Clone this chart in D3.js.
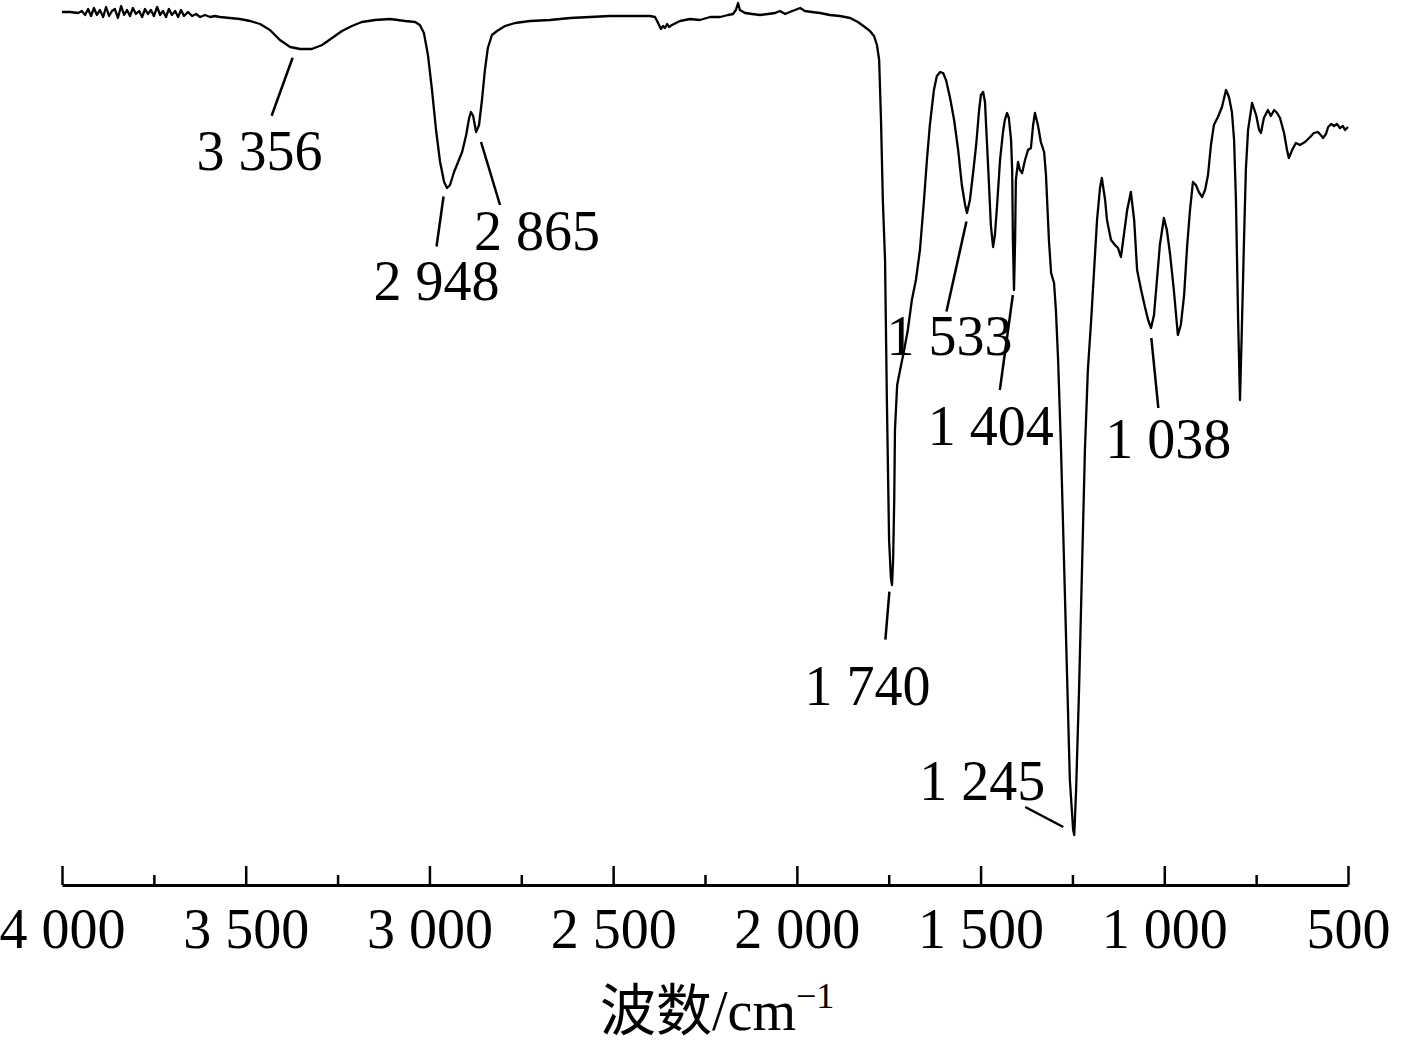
<!DOCTYPE html>
<html>
<head>
<meta charset="utf-8">
<script src="https://cdn.jsdelivr.net/npm/d3@7"></script>
<style>
  html, body { margin: 0; padding: 0; background: #fff; }
  svg { display: block; }
</style>
</head>
<body>
<svg id="chart" width="1402" height="1048"></svg>
<script>
// ---------------- DATA ----------------
// wavenumber (cm^-1)
const wavenumbers = [
  4000,3978,3956,3946,3937,3929,3921,3913,3905,3897,3888,3880,3872,3864,3856,3848,3839,3831,3823,3815,
  3807,3799,3790,3782,3774,3766,3758,3750,3741,3733,3725,3717,3709,3701,3692,3684,3676,3668,3657,3646,
  3635,3624,3611,3597,3584,3570,3543,3516,3488,3461,3434,3407,3379,3352,3320,3292,3265,3238,3211,3184,
  3148,3107,3066,3039,3026,3015,3004,2993,2982,2971,2960,2952,2944,2933,2922,2911,2900,2892,2887,2881,
  2873,2865,2857,2849,2841,2830,2816,2794,2767,2726,2672,2617,2563,2509,2454,2400,2386,2375,2370,2364,
  2359,2353,2348,2340,2329,2318,2291,2264,2236,2209,2187,2174,2166,2160,2155,2141,2122,2100,2079,2059,
  2046,2032,2019,2005,1991,1978,1959,1937,1910,1883,1855,1834,1815,1801,1790,1782,1776,1771,1766,1760,
  1755,1749,1744,1741,1738,1735,1733,1727,1719,1708,1698,1687,1676,1665,1654,1646,1638,1627,1619,1610,
  1602,1594,1583,1572,1561,1551,1542,1537,1529,1521,1512,1504,1499,1493,1488,1483,1477,1472,1466,1461,
  1455,1447,1439,1434,1428,1423,1417,1414,1412,1409,1406,1404,1398,1393,1387,1379,1371,1363,1357,1352,
  1344,1336,1327,1322,1314,1308,1300,1295,1289,1281,1273,1265,1257,1248,1245,1240,1232,1224,1216,1208,
  1199,1191,1183,1175,1170,1161,1156,1145,1134,1126,1118,1110,1101,1091,1082,1074,1063,1052,1044,1036,
  1028,1020,1012,1001,993,984,974,963,955,946,938,930,922,914,906,897,889,881,873,865,
  854,843,832,824,816,810,805,799,794,789,783,778,772,761,750,742,737,729,718,710,
  701,693,685,674,666,661,652,642,631,617,603,593,582,574,568,560,554,546,538,530,
  522,514,508,500
];
// transmittance (%)
const transmittance = [
  98.8,98.8,98.7,98.9,98.5,99.1,98.4,99.2,98.5,99.0,98.3,99.3,98.4,98.9,99.1,98.2,99.4,98.5,99.0,98.4,
  99.2,98.6,98.9,98.3,99.1,98.6,99.0,98.4,99.3,98.5,98.9,98.3,99.1,98.5,98.9,98.3,99.0,98.4,98.8,98.4,
  98.6,98.3,98.5,98.3,98.4,98.3,98.2,98.1,97.9,97.6,97.0,96.0,95.3,95.1,95.1,95.5,96.2,96.9,97.4,97.8,
  98.0,98.1,97.9,97.8,97.5,96.7,94.5,91.0,87.0,83.8,81.8,81.2,81.5,82.8,83.8,84.8,86.5,88.2,88.8,88.4,
  86.8,87.5,90.0,93.0,95.2,96.5,96.9,97.4,97.7,97.9,98.0,98.2,98.3,98.4,98.4,98.4,98.3,97.5,97.1,97.4,
  97.2,97.6,97.3,97.5,97.7,97.9,98.1,98.0,98.3,98.3,98.5,98.6,99.0,99.7,99.0,98.7,98.6,98.5,98.6,98.7,
  98.9,98.6,98.8,99.0,99.2,98.9,98.8,98.7,98.5,98.4,98.2,97.8,97.3,96.9,96.4,95.5,94.0,88.0,80.0,74.0,
  60.0,46.0,42.2,41.5,44.0,50.0,57.0,61.5,63.0,65.0,67.0,70.0,72.0,75.0,80.0,84.0,87.5,91.0,92.4,92.8,
  92.7,92.0,90.2,88.0,85.0,81.5,79.5,78.7,80.0,82.5,85.5,89.0,90.5,90.8,89.8,86.0,81.5,77.5,75.3,76.5,
  79.5,84.0,86.8,88.0,88.7,88.2,86.0,83.0,76.0,71.0,76.0,82.0,83.8,83.0,82.7,84.0,85.0,85.2,87.5,88.7,
  87.5,85.8,84.8,82.5,76.0,72.7,71.7,69.0,64.0,55.0,44.0,33.0,22.0,17.0,16.5,21.0,31.0,43.0,55.0,63.0,
  68.0,73.0,78.0,81.2,82.2,80.0,78.0,76.0,75.5,75.2,74.3,76.5,79.0,80.8,78.0,73.0,71.0,69.2,68.0,67.2,
  68.5,72.0,75.5,78.2,77.0,74.5,71.0,66.5,67.5,70.5,75.3,79.0,81.8,81.5,80.8,80.3,81.0,82.5,85.5,87.5,
  88.3,89.3,91.0,90.3,88.8,86.0,80.0,68.0,60.0,67.0,76.0,83.0,87.0,89.7,88.5,87.0,86.7,88.2,89.0,88.4,
  89.0,88.7,88.2,86.7,85.0,84.2,85.0,85.7,85.5,85.8,86.3,86.7,86.8,86.5,86.2,86.6,87.3,87.6,87.4,87.6,
  87.2,87.4,87.0,87.3
];
// axis ticks
const majorTicks = [4000, 3500, 3000, 2500, 2000, 1500, 1000, 500];
const minorTicks = [3750, 3250, 2750, 2250, 1750, 1250, 750];
// annotated peaks
const peakLabels = ["3 356", "2 948", "2 865", "1 740", "1 533", "1 404", "1 245", "1 038"];
const peakWavenumbers = [3356, 2948, 2865, 1740, 1533, 1404, 1245, 1038];
const xTitle = "波数/cm";
const xTitleSup = "−1";

// ---------------- LAYOUT (pixel offsets of annotations, relative to curve point) ----------------
const annoLayout = {
  "3 356": {l: [-6, 9, -27, 67], t: [-39, 121]},
  "2 948": {l: [-5, 10, -12, 60], t: [-12, 113]},
  "2 865": {l: [2, 17, 21, 80], t: [58, 125]},
  "1 740": {l: [-3, 15, -7, 63], t: [-25, 128]},
  "1 533": {l: [-2, 15, -22, 105], t: [-19, 148]},
  "1 404": {l: [-3, 115, -16, 210], t: [-25, 265]},
  "1 245": {l: [-49, -28, -11, -8], t: [-92, -35]},
  "1 038": {l: [1, 12, 8, 82], t: [18, 132]}
};

const serif = "'Liberation Serif', 'Times New Roman', serif";
const cjk = "'Noto Sans CJK SC', sans-serif";
const fs = 56;

const svg = d3.select("#chart");
svg.append("rect").attr("width", 1402).attr("height", 1048).attr("fill", "#fff");

const x = d3.scaleLinear().domain([4000, 500]).range([62, 1348]);
const y = d3.scaleLinear().domain([0, 100]).range([1000, 0]);
const axisY = 885;

const data = wavenumbers.map((w, i) => ({w, t: transmittance[i]}));

// spectrum
const line = d3.line().x(d => x(d.w)).y(d => y(d.t));
svg.append("path")
  .datum(data)
  .attr("d", line)
  .attr("fill", "none")
  .attr("stroke", "#000")
  .attr("stroke-width", 2.3)
  .attr("stroke-linejoin", "round");

// axes
const fmt = v => d3.format(",")(v).replace(/,/g, " ");
const gMajor = svg.append("g")
  .attr("transform", `translate(0,${axisY})`)
  .call(d3.axisBottom(x).tickValues(majorTicks).tickSizeInner(-19).tickSizeOuter(0)
        .tickPadding(23).tickFormat(fmt));
gMajor.select(".domain").attr("stroke-width", 3).attr("stroke", "#000");
gMajor.selectAll(".tick line").attr("stroke-width", 2.5).attr("stroke", "#000");
gMajor.selectAll(".tick text")
  .attr("font-family", serif).attr("font-size", fs).attr("fill", "#000");

const gMinor = svg.append("g")
  .attr("transform", `translate(0,${axisY})`)
  .call(d3.axisBottom(x).tickValues(minorTicks).tickSizeInner(-10).tickSizeOuter(0).tickFormat(""));
gMinor.select(".domain").remove();
gMinor.selectAll(".tick line").attr("stroke-width", 2.5).attr("stroke", "#000");

// axis title
const title = svg.append("text")
  .attr("x", 600).attr("y", 1030)
  .attr("font-size", fs).attr("fill", "#000");
title.append("tspan").attr("font-family", cjk).text(xTitle.slice(0, 2));
title.append("tspan").attr("font-family", serif).text(xTitle.slice(2));
title.append("tspan").attr("font-family", serif).attr("font-size", 36).attr("dy", -22).text(xTitleSup);

// annotations
const sorted = data.slice().sort((a, b) => a.w - b.w);
const bis = d3.bisector(d => d.w).left;
function curveT(w) {
  const i = bis(sorted, w);
  if (i <= 0) return sorted[0].t;
  if (i >= sorted.length) return sorted[sorted.length - 1].t;
  const a = sorted[i - 1], b = sorted[i];
  return a.t + (b.t - a.t) * (w - a.w) / (b.w - a.w);
}

const ann = svg.append("g");
peakLabels.forEach((lab, i) => {
  const w = peakWavenumbers[i];
  const px = x(w), py = y(curveT(w));
  const L = annoLayout[lab];
  ann.append("line")
    .attr("x1", px + L.l[0]).attr("y1", py + L.l[1])
    .attr("x2", px + L.l[2]).attr("y2", py + L.l[3])
    .attr("stroke", "#000").attr("stroke-width", 2.5);
  ann.append("text")
    .attr("x", px + L.t[0]).attr("y", py + L.t[1])
    .attr("text-anchor", "middle")
    .attr("font-family", serif).attr("font-size", fs).attr("fill", "#000")
    .text(lab);
});
</script>
</body>
</html>
